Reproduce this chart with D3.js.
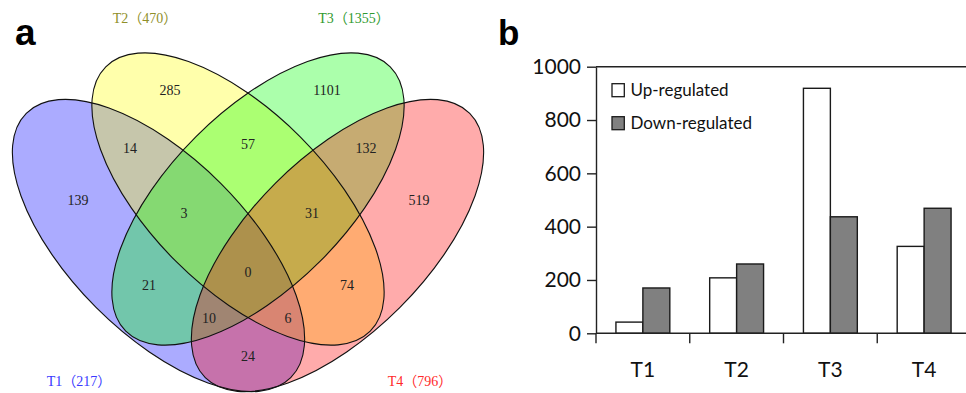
<!DOCTYPE html>
<html>
<head>
<meta charset="utf-8">
<script src="https://cdn.jsdelivr.net/npm/d3@7"></script>
<style>
  body { margin: 0; background: #fff; }
  svg { display: block; }
</style>
</head>
<body>
<svg id="chart" width="966" height="393"></svg>
<script>
// ---------- data ----------
const sets = ['T1', 'T2', 'T3', 'T4'];
const setTotals = [217, 470, 1355, 796];
const setColors = ['#0000ff', '#ffff00', '#00ff00', '#ff0000'];
const labelColors = ['#3a3aff', '#8f8f2a', '#2f9a2f', '#ff2a2a'];

// venn regions: which sets each region belongs to, and its count
const regionSets = [
  ['T1'], ['T2'], ['T3'], ['T4'],
  ['T1', 'T2'], ['T2', 'T3'], ['T3', 'T4'], ['T1', 'T3'], ['T2', 'T4'], ['T1', 'T4'],
  ['T1', 'T2', 'T3'], ['T2', 'T3', 'T4'], ['T1', 'T3', 'T4'], ['T1', 'T2', 'T4'],
  ['T1', 'T2', 'T3', 'T4']
];
const regionCounts = [139, 285, 1101, 519, 14, 57, 132, 21, 74, 24, 3, 31, 10, 6, 0];

// bar chart
const groups = ['T1', 'T2', 'T3', 'T4'];
const seriesNames = ['Up-regulated', 'Down-regulated'];
const upRegulated = [42, 208, 919, 326];
const downRegulated = [170, 260, 437, 469];
const yTicks = [0, 200, 400, 600, 800, 1000];

const svg = d3.select('#chart');

// ---------- panel a : venn ----------
// ellipse layout (px): centre, semi axes, rotation in degrees
const ellipses = [
  {cx: 158.5, cy: 245.5, a: 187, b: 88, rot: 45},
  {cx: 238, cy: 199, a: 187, b: 88, rot: 45},
  {cx: 258, cy: 199, a: 187, b: 88, rot: -45},
  {cx: 337.5, cy: 245.5, a: 187, b: 88, rot: -45}
];
// text anchors (px), same order as regionSets / sets
const regionLabelPos = [
  [78, 200], [170, 90], [327, 90], [419, 200],
  [130, 148], [248, 144], [366, 148], [149, 285], [347, 285], [248, 356],
  [184, 213], [312, 213], [209, 318], [288, 318],
  [248, 272]
];
const setLabelPos = [[79, 381], [145, 18], [354, 18], [420, 381]];

const venn = svg.append('g');

venn.selectAll('ellipse.fill')
  .data(ellipses)
  .join('ellipse')
    .attr('class', 'fill')
    .attr('cx', d => d.cx).attr('cy', d => d.cy)
    .attr('rx', d => d.a).attr('ry', d => d.b)
    .attr('transform', d => `rotate(${d.rot},${d.cx},${d.cy})`)
    .attr('fill', (d, i) => setColors[i])
    .attr('fill-opacity', 0.33)
    .attr('stroke', 'none');

venn.selectAll('ellipse.edge')
  .data(ellipses)
  .join('ellipse')
    .attr('class', 'edge')
    .attr('cx', d => d.cx).attr('cy', d => d.cy)
    .attr('rx', d => d.a).attr('ry', d => d.b)
    .attr('transform', d => `rotate(${d.rot},${d.cx},${d.cy})`)
    .attr('fill', 'none')
    .attr('stroke', '#111')
    .attr('stroke-width', 1.1);

venn.selectAll('text.count')
  .data(regionCounts)
  .join('text')
    .attr('class', 'count')
    .attr('x', (d, i) => regionLabelPos[i][0])
    .attr('y', (d, i) => regionLabelPos[i][1])
    .attr('dy', '0.35em')
    .attr('text-anchor', 'middle')
    .attr('font-family', "'Liberation Serif', 'DejaVu Serif', serif")
    .attr('font-size', 14)
    .attr('fill', '#222')
    .text(d => d);

venn.selectAll('text.setlabel')
  .data(sets)
  .join('text')
    .attr('class', 'setlabel')
    .attr('x', (d, i) => setLabelPos[i][0])
    .attr('y', (d, i) => setLabelPos[i][1])
    .attr('dy', '0.35em')
    .attr('text-anchor', 'middle')
    .attr('font-family', "'Liberation Serif', 'Noto Sans CJK SC', serif")
    .attr('font-size', 14)
    .attr('fill', (d, i) => labelColors[i])
    .text((d, i) => `${d}（${setTotals[i]}）`);

svg.append('text')
  .attr('x', 15).attr('y', 45)
  .attr('font-family', "'Liberation Sans', Arial, sans-serif")
  .attr('font-weight', 'bold')
  .attr('font-size', 37)
  .text('a');

// ---------- panel b : bars ----------
svg.append('text')
  .attr('x', 498).attr('y', 45)
  .attr('font-family', "'Liberation Sans', Arial, sans-serif")
  .attr('font-weight', 'bold')
  .attr('font-size', 35)
  .text('b');

const font = "Lato, 'Open Sans', sans-serif";
const x0 = d3.scaleBand().domain(groups).range([596, 971]);
const x1 = d3.scaleBand().domain(seriesNames).range([0, x0.bandwidth()]).paddingOuter(0.74);
const y = d3.scaleLinear().domain([0, 1000]).range([333.3, 66.7]);
const fills = {'Up-regulated': '#ffffff', 'Down-regulated': '#808080'};

const bars = svg.append('g');
bars.selectAll('g')
  .data(groups.map((g, i) => ({g, vals: [upRegulated[i], downRegulated[i]]})))
  .join('g')
    .attr('transform', d => `translate(${x0(d.g)},0)`)
  .selectAll('rect')
  .data(d => d.vals.map((v, j) => ({s: seriesNames[j], v})))
  .join('rect')
    .attr('x', d => x1(d.s))
    .attr('y', d => y(d.v))
    .attr('width', x1.bandwidth())
    .attr('height', d => y(0) - y(d.v))
    .attr('fill', d => fills[d.s])
    .attr('stroke', '#1a1a1a')
    .attr('stroke-width', 1.4);

// y axis
const yAxis = svg.append('g')
  .attr('transform', `translate(${x0.range()[0]},0)`)
  .call(d3.axisLeft(y).tickValues(yTicks).tickFormat(d3.format('d'))
    .tickSize(9).tickSizeOuter(0).tickPadding(6));
yAxis.select('.domain').attr('stroke', '#222').attr('stroke-width', 1.4);
yAxis.selectAll('.tick line').attr('stroke', '#222').attr('stroke-width', 1.4);
yAxis.selectAll('text').attr('font-family', font).attr('font-size', 21).attr('fill', '#111');

// top frame line
svg.append('line')
  .attr('x1', x0.range()[0]).attr('x2', x0.range()[1])
  .attr('y1', y(1000)).attr('y2', y(1000))
  .attr('stroke', '#222').attr('stroke-width', 1.4);

// x axis: baseline, category separators, labels
svg.append('line')
  .attr('x1', x0.range()[0]).attr('x2', x0.range()[1])
  .attr('y1', y(0)).attr('y2', y(0))
  .attr('stroke', '#222').attr('stroke-width', 1.4);
svg.append('g').selectAll('line')
  .data(groups.map(g => x0(g)).concat([x0.range()[1]]))
  .join('line')
    .attr('x1', d => d).attr('x2', d => d)
    .attr('y1', y(0)).attr('y2', y(0) + 10)
    .attr('stroke', '#222').attr('stroke-width', 1.4);
const xAxis = svg.append('g')
  .attr('transform', `translate(0,${y(0)})`)
  .call(d3.axisBottom(x0).tickSize(0).tickPadding(29));
xAxis.select('.domain').remove();
xAxis.selectAll('text').attr('font-family', font).attr('font-size', 21).attr('fill', '#111');

// legend
const legend = svg.append('g')
  .attr('transform', `translate(${x0.range()[0] + 16},${y(1000) + 17})`);
const items = legend.selectAll('g')
  .data(seriesNames)
  .join('g')
    .attr('transform', (d, i) => `translate(0,${i * 33})`);
items.append('rect')
  .attr('width', 12.3).attr('height', 13)
  .attr('fill', d => fills[d])
  .attr('stroke', '#1a1a1a').attr('stroke-width', 1.3);
items.append('text')
  .attr('x', 18.5).attr('y', 6.8)
  .attr('dy', '0.35em')
  .attr('font-family', font)
  .attr('font-size', 17)
  .attr('fill', '#111')
  .text(d => d);
</script>
</body>
</html>
